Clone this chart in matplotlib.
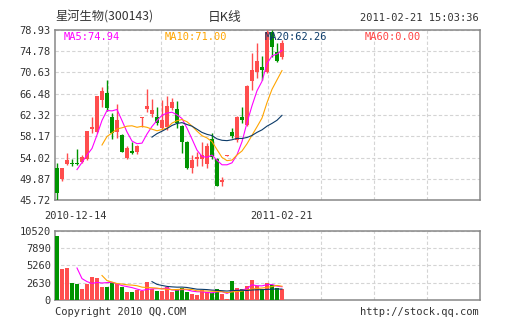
import matplotlib
matplotlib.use('Agg')  # sin display
import matplotlib.pyplot as plt
import numpy as np
import pandas as pd

# 星河生物(300143) 日K线, 2010-12 ~ 2011-02-21
opens = [51.97, 49.88, 52.81, 52.95, 52.95, 53.09, 53.73, 59.59, 59.06, 65.26,
         66.68, 61.88, 59.06, 58.42, 53.87, 55.29, 55.04, 61.70, 63.50, 62.52,
         61.88, 59.85, 59.92, 63.63, 63.50, 60.18, 57.11, 51.91, 53.67, 53.73,
         52.75, 57.60, 53.73, 49.30, 54.40, 58.95, 57.44, 61.88, 60.37, 68.97,
         70.78, 71.76, 70.78, 78.48, 74.69, 73.71]
highs = [52.95, 51.97, 54.90, 53.79, 55.63, 54.51, 59.26, 61.94, 66.04, 67.85,
         69.26, 62.77, 64.47, 58.60, 56.27, 57.11, 56.50, 61.88, 67.40, 65.45,
         63.89, 65.26, 66.04, 65.60, 65.00, 60.37, 57.20, 54.51, 55.15, 57.00,
         56.80, 58.81, 53.90, 50.20, 54.50, 59.79, 62.20, 63.95, 68.20, 74.38,
         76.39, 73.85, 78.93, 78.93, 76.33, 77.00]
lows = [45.72, 49.49, 52.62, 52.30, 52.56, 52.89, 53.53, 58.81, 58.90, 63.95,
        63.11, 57.58, 57.83, 55.00, 53.67, 54.65, 54.65, 59.92, 62.97, 61.99,
        60.37, 59.40, 59.40, 63.30, 59.80, 54.96, 51.80, 51.05, 52.36, 52.36,
        51.91, 53.70, 48.40, 48.46, 54.40, 57.83, 57.00, 60.70, 60.20, 67.21,
        69.55, 69.16, 70.50, 73.71, 72.74, 73.30]
closes = [47.09, 51.97, 53.59, 52.85, 52.80, 54.06, 59.26, 59.98, 66.04, 67.01,
          63.75, 58.87, 61.35, 55.15, 55.94, 54.84, 56.33, 61.88, 64.08, 63.30,
          60.70, 61.35, 64.08, 64.93, 60.70, 57.11, 51.91, 53.53, 54.06, 54.51,
          56.27, 54.10, 48.51, 49.60, 54.50, 58.22, 61.88, 61.35, 68.08, 71.12,
          72.87, 71.12, 78.60, 75.67, 72.93, 76.38]
volumes = [9711, 4704, 4856, 2580, 2428, 1669, 2428, 3490, 3338, 1973,
           1973, 2580, 2428, 1973, 1214, 1214, 1466, 1366, 2731, 1669,
           1416, 1366, 1973, 1214, 1517, 1871, 1214, 910, 759, 1517,
           1214, 1062, 1669, 910, 152, 2883, 1821, 1669, 2124, 3035,
           2200, 1700, 2550, 2300, 1821, 1669]

price_ticks = [45.72, 49.87, 54.02, 58.17, 62.32, 66.48, 70.63, 74.78, 78.93]
price_labels = ['45.72', '49.87', '54.02', '58.17', '62.32', '66.48', '70.63', '74.78', '78.93']
vol_ticks = [0, 2630, 5260, 7890, 10520]
vol_labels = ['0', '2630', '5260', '7890', '10520']
date_labels = ['2010-12-14', '2011-02-21']
ma_periods = [5, 10, 20]

RED = '#ff4d4d'
GREEN = '#009400'
MA_COLORS = {5: '#ff00ff', 10: '#ffa500', 20: '#0b3a68', 60: '#ff4444'}
GRID = '#d4d4d4'
FRAME = '#888888'
MONO = 'DejaVu Sans Mono'
TXT = '#333333'

W, H = 505, 330


def px(x, y):
    return x / W, 1 - y / H


fig = plt.figure(figsize=(W / 100, H / 100), dpi=100)
ax = fig.add_axes([55 / W, 130 / H, 425 / W, 170 / H])
axv = fig.add_axes([55 / W, 30 / H, 425 / W, 69.3 / H])

n = len(closes)
x = np.arange(n)
o = np.array(opens)
c = np.array(closes)
up = c >= o
colors = np.where(up, RED, GREEN)
xmin, xmax = -0.4, 84.6
vgrid = np.linspace(xmin, xmax, 9)[1:-1]

# velas
ax.vlines(x, lows, highs, colors=colors, linewidth=1, zorder=3)
body_lo = np.minimum(o, c)
body_h = np.maximum(np.abs(c - o), 0.12)
ax.bar(x, body_h, bottom=body_lo, width=0.78, color=colors, linewidth=0, zorder=4)

cl = pd.Series(closes)
for p in ma_periods:
    ma = cl.rolling(p).mean()
    ax.plot(x, ma, color=MA_COLORS[p], linewidth=0.8, zorder=5)

ax.set_xlim(xmin, xmax)
ax.set_ylim(price_ticks[0], price_ticks[-1])
ax.set_yticks(price_ticks)
ax.set_yticklabels(price_labels, family=MONO, fontsize=7.5, color=TXT)
ax.set_xticks(vgrid)
ax.set_xticklabels([])

# volumen
vol = pd.Series(volumes)
axv.bar(x, volumes, width=0.8, color=colors, linewidth=0, zorder=3)
for p in ma_periods:
    axv.plot(x, vol.rolling(p).mean(), color=MA_COLORS[p], linewidth=0.8, zorder=4)
axv.set_xlim(xmin, xmax)
axv.set_ylim(vol_ticks[0], vol_ticks[-1])
axv.set_yticks(vol_ticks)
axv.set_yticklabels(vol_labels, family=MONO, fontsize=7.5, color=TXT)
axv.set_xticks(vgrid)
axv.set_xticklabels([])

for a in (ax, axv):
    a.grid(True, color=GRID, linestyle=(0, (3, 2)), linewidth=0.8, zorder=0)
    a.tick_params(length=0, pad=3)
    for s in a.spines.values():
        s.set_color(FRAME)
        s.set_linewidth(1.1)

# leyenda de medias
ma_vals = {p: cl.rolling(p).mean().iloc[-1] for p in ma_periods}
for p, xp in zip([5, 10, 20], [64, 165, 265]):
    fig.text(*px(xp, 37), f'MA{p}:{ma_vals[p]:.2f}', family=MONO, fontsize=7.5,
             color=MA_COLORS[p], va='center')
fig.text(*px(365, 37), 'MA60:0.00', family=MONO, fontsize=7.5,
         color=MA_COLORS[60], va='center')

# cabecera
cjk = ['Noto Sans CJK SC', 'DejaVu Sans']
fig.text(*px(55, 17), '星河生物(300143)', family=cjk, fontsize=8.8, color=TXT, va='center')
fig.text(*px(225, 17), '日K线', family=cjk, fontsize=9.2, color=TXT, va='center', ha='center')
fig.text(*px(479, 18), '2011-02-21 15:03:36', family=MONO, fontsize=7.5,
         color=TXT, va='center', ha='right')

# fechas y pie
fig.text(*px(44, 216), date_labels[0], family=MONO, fontsize=7.5, color=TXT, va='center')
fig.text(*px(250, 216), date_labels[1], family=MONO, fontsize=7.5, color=TXT, va='center')
fig.text(*px(55, 312), 'Copyright 2010 QQ.COM', family=MONO, fontsize=7.5, color=TXT, va='center')
fig.text(*px(479, 312), 'http://stock.qq.com', family=MONO, fontsize=7.5,
         color=TXT, va='center', ha='right')

fig.savefig('out.png', dpi=100)
